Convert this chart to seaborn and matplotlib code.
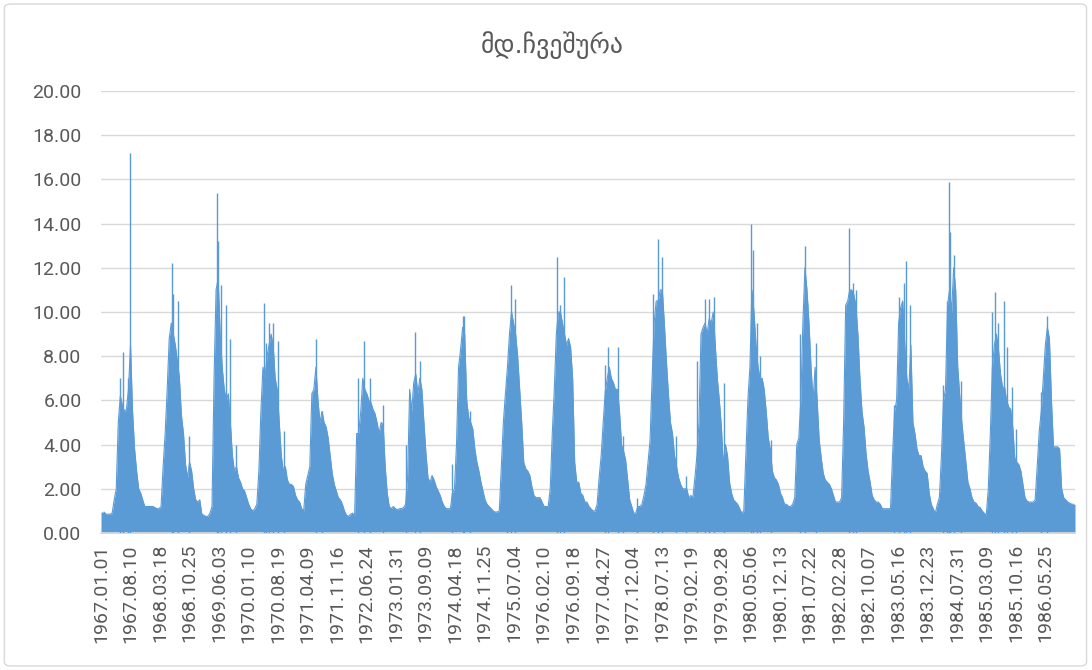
import numpy as np
import pandas as pd
import matplotlib
matplotlib.use("Agg")
import matplotlib.pyplot as plt
from matplotlib.patches import FancyBboxPatch
import seaborn as sns

title = "მდ.ჩვეშურა"

tick_labels = ["1967.01.01", "1967.08.10", "1968.03.18", "1968.10.25", "1969.06.03",
               "1970.01.10", "1970.08.19", "1971.04.09", "1971.11.16", "1972.06.24",
               "1973.01.31", "1973.09.09", "1974.04.18", "1974.11.25", "1975.07.04",
               "1976.02.10", "1976.09.18", "1977.04.27", "1977.12.04", "1978.07.13",
               "1979.02.19", "1979.09.28", "1980.05.06", "1980.12.13", "1981.07.22",
               "1982.02.28", "1982.10.07", "1983.05.16", "1983.12.23", "1984.07.31",
               "1985.03.09", "1985.10.16", "1986.05.25"]

q1967 = [0.95, 0.85, 0.85, 0.85, 0.9, 1.5, 2.0, 5.0, 6.2, 5.8, 5.5, 5.6, 6.5, 8.5, 5.5, 3.8, 2.8, 2.0, 1.8, 1.5, 1.2, 1.2, 1.2, 1.2]
q1968 = [1.2, 1.15, 1.1, 1.1, 1.2, 3.0, 4.5, 6.5, 8.8, 9.5, 9.0, 8.5, 7.8, 7.0, 5.3, 4.5, 3.1, 2.5, 3.2, 2.8, 2.0, 1.5, 1.4, 1.5]
q1969 = [0.85, 0.8, 0.75, 0.75, 0.9, 1.2, 7.0, 11.0, 11.5, 9.0, 7.5, 6.5, 6.0, 6.3, 5.0, 3.5, 2.8, 3.0, 2.5, 2.3, 2.0, 1.9, 1.6, 1.3]
q1970 = [1.1, 1.0, 1.1, 1.3, 2.8, 5.5, 7.5, 7.0, 8.0, 8.5, 9.0, 8.5, 7.0, 6.5, 5.0, 3.5, 2.8, 3.0, 2.4, 2.2, 2.2, 2.1, 1.7, 1.5]
q1971 = [1.4, 1.1, 1.0, 2.2, 2.6, 3.0, 6.3, 6.5, 7.5, 6.0, 5.0, 5.5, 5.0, 4.8, 4.3, 3.5, 2.7, 2.2, 1.9, 1.6, 1.5, 1.3, 1.0, 0.8]
q1972 = [0.75, 0.85, 0.9, 0.8, 4.5, 4.5, 5.5, 7.0, 6.5, 6.3, 6.0, 5.9, 5.6, 5.4, 5.0, 4.5, 5.0, 4.9, 3.0, 1.8, 1.2, 1.1, 1.2, 1.1]
q1973 = [1.05, 1.1, 1.1, 1.15, 1.3, 2.5, 6.5, 5.5, 6.8, 7.2, 6.3, 7.0, 6.5, 5.0, 3.6, 2.5, 2.3, 2.6, 2.4, 2.1, 1.9, 1.7, 1.4, 1.2]
q1974 = [1.1, 1.1, 1.1, 1.8, 2.0, 4.0, 7.5, 8.3, 9.3, 9.0, 6.0, 5.2, 5.0, 4.7, 3.8, 3.2, 2.8, 2.3, 1.9, 1.5, 1.3, 1.2, 1.1, 1.0]
q1975 = [0.95, 0.95, 1.0, 3.0, 5.0, 6.3, 7.5, 9.0, 10.0, 9.5, 9.0, 8.0, 6.5, 5.0, 3.2, 2.9, 2.8, 2.6, 2.1, 1.7, 1.6, 1.6, 1.6, 1.4]
q1976 = [1.2, 1.2, 1.2, 2.0, 4.5, 6.5, 9.0, 10.0, 10.0, 9.5, 9.0, 8.5, 8.8, 8.4, 7.0, 3.2, 2.3, 2.3, 1.8, 1.7, 1.4, 1.4, 1.2, 1.1]
q1977 = [1.0, 1.0, 1.3, 2.5, 3.5, 5.0, 6.4, 7.0, 7.5, 7.0, 6.8, 6.5, 6.5, 5.5, 4.0, 3.7, 3.3, 2.4, 1.5, 1.2, 0.9, 0.9, 1.2, 1.2]
q1978 = [1.3, 1.7, 2.2, 3.2, 4.2, 7.0, 9.5, 10.5, 10.5, 11.0, 11.0, 9.5, 7.8, 6.3, 5.0, 4.5, 3.5, 3.0, 2.5, 2.2, 2.0, 2.0, 2.0, 1.6]
q1979 = [1.7, 1.6, 2.5, 3.5, 5.0, 9.0, 9.3, 9.5, 9.0, 9.7, 9.5, 10.0, 8.5, 7.0, 6.0, 4.8, 3.0, 4.0, 3.5, 2.3, 1.8, 1.5, 1.4, 1.3]
q1980 = [1.1, 0.9, 1.0, 3.5, 6.0, 7.5, 11.0, 10.0, 8.5, 7.5, 7.0, 7.0, 6.5, 5.5, 4.3, 3.8, 2.8, 2.5, 2.4, 2.2, 1.8, 1.6, 1.3, 1.3]
q1981 = [1.2, 1.2, 1.3, 1.6, 4.0, 4.3, 6.0, 9.5, 12.0, 11.0, 9.5, 7.5, 6.0, 7.5, 6.0, 4.2, 3.4, 2.7, 2.4, 2.3, 2.2, 2.0, 1.7, 1.4]
q1982 = [1.4, 1.4, 1.6, 5.0, 10.3, 10.5, 11.0, 11.0, 10.8, 10.3, 9.0, 7.0, 5.5, 4.8, 3.6, 2.8, 2.3, 1.7, 1.5, 1.4, 1.4, 1.3, 1.1, 1.1]
q1983 = [1.1, 1.1, 1.1, 3.5, 5.5, 6.0, 9.5, 10.2, 10.5, 8.5, 7.0, 6.5, 8.5, 5.0, 4.5, 3.8, 3.5, 3.5, 3.0, 2.8, 2.7, 1.8, 1.3, 1.1]
q1984 = [0.9, 1.3, 1.6, 3.5, 6.0, 6.5, 10.3, 11.0, 10.0, 12.0, 11.0, 7.5, 6.2, 5.0, 4.1, 3.2, 2.3, 2.0, 1.6, 1.4, 1.35, 1.2, 1.15, 1.0]
q1985 = [0.9, 0.8, 2.0, 4.5, 7.5, 8.5, 9.0, 8.3, 7.2, 6.6, 6.6, 6.0, 5.7, 5.6, 4.8, 3.4, 3.2, 3.1, 2.8, 2.2, 1.6, 1.45, 1.4, 1.4]
q1986 = [1.4, 1.5, 3.0, 4.6, 5.5, 7.0, 8.5, 9.3, 8.8, 6.0, 3.9, 3.9, 3.9, 3.8, 2.0, 1.6, 1.5, 1.4, 1.35, 1.3, 1.3]

# single-day floods standing above the half-month level (day index, m3/s)
spike_day = [142, 167, 204, 219, 534, 541, 579, 661, 866, 874, 896, 938, 966, 1013,
             1220, 1235, 1258, 1290, 1325, 1373, 1608, 1655, 1927, 1972, 2016, 2114,
             2286, 2354, 2391, 2628, 2713, 2720, 2763, 3038, 3068, 3098, 3417, 3437,
             3467, 3776, 3799, 3874, 3911, 4011, 4136, 4173, 4203, 4305, 4378, 4465,
             4523, 4555, 4592, 4667, 4869, 4884, 4914, 4934, 5014, 5236, 5274, 5351,
             5603, 5633, 5653, 5938, 5977, 6010, 6028, 6058, 6307, 6335, 6352, 6357,
             6387, 6437, 6674, 6697, 6719, 6764, 6787, 6819, 6854, 7039, 7087]
spike_flow = [7.0, 8.2, 7.0, 17.2, 12.2, 10.8, 10.5, 4.4, 15.4, 13.2, 11.2, 10.3, 8.8, 4.0,
              10.4, 8.6, 9.5, 9.5, 8.7, 4.6, 8.8, 5.5, 7.0, 8.7, 7.0, 5.8,
              4.0, 9.1, 7.8, 3.1, 9.8, 9.8, 5.5, 6.8, 11.2, 10.6, 12.5, 10.3,
              11.6, 7.6, 8.4, 8.4, 4.4, 1.6, 10.8, 13.3, 12.5, 4.4, 2.6, 7.8,
              10.6, 10.6, 10.7, 6.8, 14.0, 12.8, 9.5, 8.0, 4.2, 9.0, 13.0, 8.6,
              13.8, 11.3, 11.0, 5.8, 10.7, 11.3, 12.3, 10.3, 6.7, 10.5, 15.9, 13.6,
              12.6, 6.9, 10.0, 10.9, 9.5, 10.5, 8.4, 6.6, 4.7, 6.4, 9.8]

years = [q1967, q1968, q1969, q1970, q1971, q1972, q1973, q1974, q1975, q1976,
         q1977, q1978, q1979, q1980, q1981, q1982, q1983, q1984, q1985, q1986]

n_days = 7293
flow = np.concatenate([np.array(y, dtype=float) for y in years])
day = 22.6 + 15.256 * np.arange(len(flow))
df = pd.DataFrame({"day": day, "flow": flow})

blue = "#5B9BD5"
grey_txt = "#595959"
grid_c = "#D9D9D9"

sns.set_theme(style="white")
plt.rcParams["font.family"] = ["Roboto", "DejaVu Sans"]

fig = plt.figure(figsize=(10.92, 6.70), dpi=100)
ax = fig.add_axes([101 / 1092, 1 - 533 / 670, 974 / 1092, 442 / 670])

xs = np.r_[0, df["day"], n_days]
ys = np.r_[df["flow"].iloc[0], df["flow"], df["flow"].iloc[-1]]
ax.fill_between(xs, 0, ys, color=blue, lw=0, zorder=2)
sns.lineplot(data=df, x="day", y="flow", color=blue, lw=0.8, ax=ax, zorder=3)
ax.vlines(spike_day, 0, spike_flow, colors=blue, lw=1.0, zorder=3)

ax.set_xlim(0, n_days)
ax.set_ylim(0, 20)
ax.set_yticks(np.arange(0, 21, 2))
ax.set_yticklabels([f"{v:.2f}" for v in np.arange(0, 21, 2)])
ax.set_xticks([221 * i + 0.5 for i in range(len(tick_labels))])
ax.set_xticklabels(tick_labels, rotation=90)
ax.tick_params(axis="both", length=0, labelsize=14, colors=grey_txt)
ax.tick_params(axis="x", pad=8)
ax.tick_params(axis="y", pad=14)
ax.yaxis.grid(True, color=grid_c, lw=1)
ax.set_axisbelow(True)
for s in ["top", "right", "left"]:
    ax.spines[s].set_visible(False)
ax.spines["bottom"].set_color(grid_c)
ax.set_xlabel("")
ax.set_ylabel("")

fig.text(0.506, 0.932, title, ha="center", va="center", fontsize=18.5,
         color=grey_txt, family="DejaVu Sans")
fig.patches.append(FancyBboxPatch((0.004, 0.006), 0.991, 0.988,
                                  boxstyle="round,pad=0,rounding_size=0.006",
                                  transform=fig.transFigure, fill=False,
                                  ec=grid_c, lw=1))

fig.savefig("out.png", dpi=100, facecolor="white")
